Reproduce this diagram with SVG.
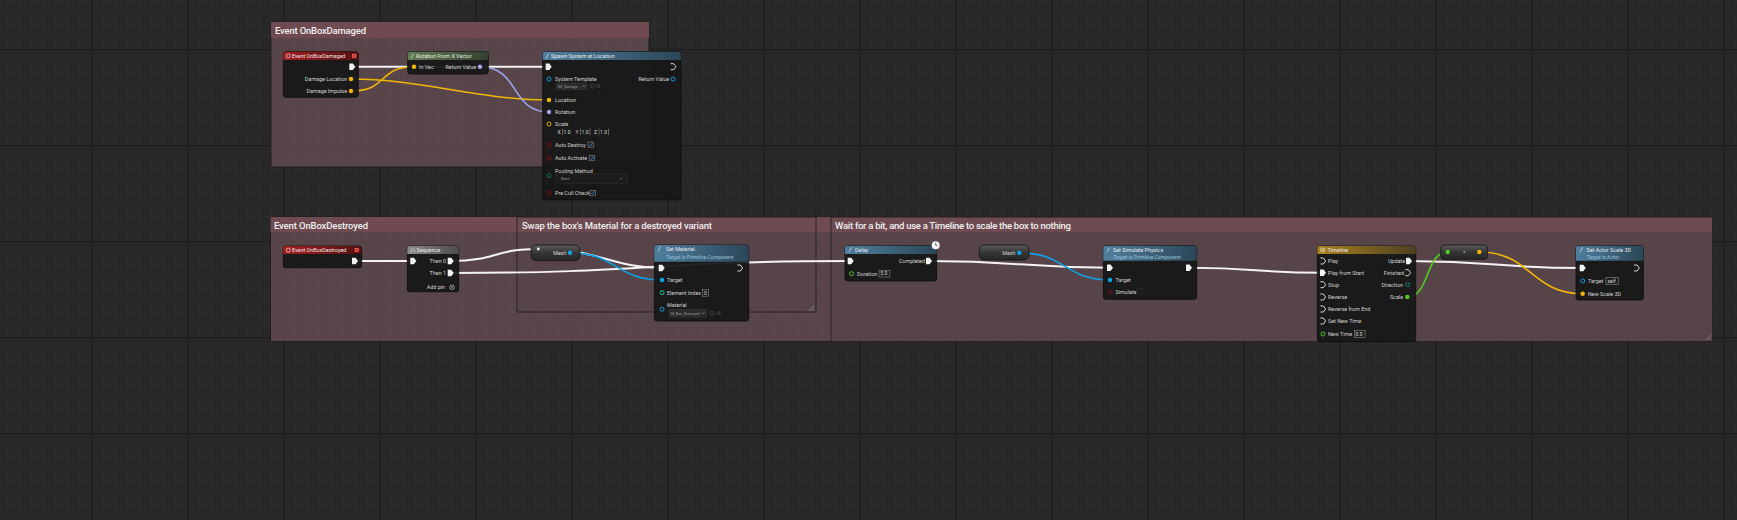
<svg xmlns="http://www.w3.org/2000/svg" xmlns:xlink="http://www.w3.org/1999/xlink" width="1737" height="520" viewBox="0 0 1737 520">
<defs>
  <pattern id="grid" width="96" height="96" patternUnits="userSpaceOnUse" x="91" y="49">
    <rect width="96" height="96" fill="#282828"/>
    <g stroke="#2d2d2d" stroke-width="1">
      <path d="M12 0V96M24 0V96M36 0V96M48 0V96M60 0V96M72 0V96M84 0V96"/>
      <path d="M0 12H96M0 24H96M0 36H96M0 48H96M0 60H96M0 72H96M0 84H96"/>
    </g>
    <path d="M0.5 0V96M0 0.5H96" stroke="#1c1c1c" stroke-width="1.5"/>
  </pattern>
  <linearGradient id="gEvent" x1="0" y1="0" x2="1" y2="0"><stop offset="0" stop-color="#a41e1e"/><stop offset="1" stop-color="#521212"/></linearGradient>
  <linearGradient id="gPure" x1="0" y1="0" x2="1" y2="0"><stop offset="0" stop-color="#627e52"/><stop offset="1" stop-color="#34402f"/></linearGradient>
  <linearGradient id="gFunc" x1="0" y1="0" x2="1" y2="0"><stop offset="0" stop-color="#4f7f9e"/><stop offset="1" stop-color="#2c4658"/></linearGradient>
  <linearGradient id="gSeq" x1="0" y1="0" x2="1" y2="0"><stop offset="0" stop-color="#8c8c8c"/><stop offset="1" stop-color="#4c4c4c"/></linearGradient>
  <linearGradient id="gTime" x1="0" y1="0" x2="1" y2="0"><stop offset="0" stop-color="#a8801e"/><stop offset="1" stop-color="#4e4020"/></linearGradient>
  <linearGradient id="gPill" x1="0" y1="0" x2="0" y2="1"><stop offset="0" stop-color="#5c5c5c"/><stop offset="0.5" stop-color="#353535"/><stop offset="1" stop-color="#262626"/></linearGradient>
  <path id="exf" d="M-3 -3.3H0.6L3 0L0.6 3.3H-3Z" fill="#f2f2f2"/>
  <path id="exo" d="M-2.6 -3H0.4L2.6 0L0.4 3H-2.6" fill="none" stroke="#e6e6e6" stroke-width="0.9"/>
  <path id="chk" d="M-1.6 0.2L-0.4 1.4L1.8 -1.6" fill="none" stroke="#2e8ce0" stroke-width="0.9"/>
  <style>
    text{font-family:"Roboto","Liberation Sans",sans-serif}
    .ct{font-size:9.5px;fill:#eeeeee;font-weight:500}
    .nt{font-size:5.4px;fill:#e8e8e8}
    .st{font-size:5.2px;fill:#9ec6de;font-style:italic}
    .pl{font-size:5.4px;fill:#d2d2d2}
    .r{text-anchor:end}
    .tiny{font-size:3.6px;fill:#9a9a9a}
    .val{font-size:5px;fill:#d8d8d8}
    .body{fill:#171717;fill-opacity:0.94;stroke:#0c0c0c;stroke-width:0.8}
    .cbody{fill:#5f4b4f;fill-opacity:0.86}
    .chead{fill:#6f4b51}
    .nest{fill:#5f4b4f;fill-opacity:0.06;stroke:#2a2224;stroke-width:1}
    .box{fill:#1e1e1e;stroke:#9a9a9a;stroke-width:0.5}
    .dd{fill:#2a2a2a;stroke:#3c3c3c;stroke-width:0.5}
    .grip{stroke:#9c9c9c;stroke-width:0.6}
    .wx{fill:none;stroke:#f4f4f4;stroke-width:2}
    .wv{fill:none;stroke:#f2b705;stroke-width:1.6}
    .wr{fill:none;stroke:#9fa7ee;stroke-width:1.6}
    .wo{fill:none;stroke:#0aa2e8;stroke-width:1.6}
    .wf{fill:none;stroke:#52cc1c;stroke-width:1.6}
  </style>
</defs>

<rect width="1737" height="520" fill="url(#grid)"/>

<!-- comments -->
<g id="comment-damaged">
  <rect x="271" y="22" width="378" height="145" class="cbody" stroke="#231c1d" stroke-width="1"/>
  <rect x="271" y="22" width="378" height="16" class="chead"/>
  <text x="275" y="34" class="ct" textLength="91">Event OnBoxDamaged</text>
  <path d="M647 162L642 167M647 164.5L644.5 167" class="grip"/>
</g>
<g id="comment-destroyed">
  <rect x="270.5" y="217" width="1442" height="124.5" class="cbody" stroke="#231c1d" stroke-width="1"/>
  <rect x="270.5" y="217" width="1442" height="15" class="chead"/>
  <text x="274" y="229" class="ct" textLength="94">Event OnBoxDestroyed</text>
</g>
<g id="comment-swap">
  <rect x="517" y="217" width="299" height="95" class="nest"/>
  <text x="522" y="229" class="ct" textLength="190">Swap the box's Material for a destroyed variant</text>
  <path d="M814 306L809 311M814 308.5L811.5 311" class="grip"/>
</g>
<g id="comment-wait">
  <rect x="831" y="217" width="881.5" height="124.5" class="nest"/>
  <text x="835" y="229" class="ct" textLength="236">Wait for a bit, and use a Timeline to scale the box to nothing</text>
  <path d="M1711 335L1706 340M1711 337.5L1708.5 340" class="grip"/>
</g>

<!-- connectors -->
<g id="connectors">
  <path class="wx" d="M352 66.7H549"/>
  <path class="wv" d="M351 79C420 79 480 100 549 100"/>
  <path class="wv" d="M351 91C388 91 378 66.7 414 66.7"/>
  <path class="wr" d="M480 66.7C520 66.7 510 112 549 112"/>
  <path class="wx" d="M355 261H413"/>
  <path class="wx" d="M451 261C496 261 494 249 538 249C600 249 612 268 662 268"/>
  <path class="wx" d="M451 273C651 273 651 261 851 261"/>
  <path class="wo" d="M570 252.7C616 252.7 616 280 662 280"/>
  <path class="wx" d="M929 261C1020 261 1020 267.7 1110 267.7"/>
  <path class="wo" d="M1019.3 252.7C1065 252.7 1065 280 1110 280"/>
  <path class="wx" d="M1189 267.7C1256 267.7 1256 272.7 1323 272.7"/>
  <path class="wx" d="M1409 261C1496 261 1496 268 1582.7 268"/>
  <path class="wf" d="M1407.3 297C1430 297 1425 252 1447.7 252"/>
  <path class="wv" d="M1479.3 252C1531 252 1531 293.7 1582.7 293.7"/>
</g>

<!-- nodes -->
<g id="node-event-damaged">
  <rect x="283.3" y="51.7" width="75" height="45.6" rx="2.5" class="body"/>
  <path d="M285.8 51.7H355.8A2.5 2.5 0 0 1 358.3 54.2V60H283.3V54.2A2.5 2.5 0 0 1 285.8 51.7Z" fill="url(#gEvent)"/>
  <circle cx="288.3" cy="55.9" r="2" fill="none" stroke="#eee" stroke-width="0.7"/>
  <text x="292" y="58" class="nt">Event OnBoxDamaged</text>
  <rect x="352.6" y="54.2" width="3.4" height="3.4" fill="#e02424" stroke="#ff9a9a" stroke-width="0.5"/>
  <use href="#exf" x="352.3" y="66.7"/>
  <text x="347" y="81" class="pl r">Damage Location</text>
  <circle cx="351" cy="79" r="2.2" fill="#f2b705"/>
  <text x="347" y="93" class="pl r">Damage Impulse</text>
  <circle cx="351" cy="91" r="2.2" fill="#f2b705"/>
</g>

<g id="node-rotation">
  <rect x="407.7" y="51.7" width="80.6" height="22.3" rx="2.5" class="body"/>
  <path d="M410.2 51.7H485.8A2.5 2.5 0 0 1 488.3 54.2V60H407.7V54.2A2.5 2.5 0 0 1 410.2 51.7Z" fill="url(#gPure)"/>
  <path d="M411 58.5L413.5 53.5" stroke="#ddd" stroke-width="0.7"/>
  <text x="416" y="58" class="nt">Rotation From X Vector</text>
  <circle cx="414" cy="66.7" r="2.2" fill="#f2b705"/>
  <text x="419" y="68.7" class="pl">In Vec</text>
  <text x="476" y="68.7" class="pl r">Return Value</text>
  <circle cx="480" cy="66.7" r="2.2" fill="#9fa7ee"/>
</g>

<g id="node-spawn">
  <rect x="542.7" y="51.7" width="138.3" height="148.3" rx="2.5" class="body"/>
  <path d="M545.2 51.7H678.5A2.5 2.5 0 0 1 681 54.2V60H542.7V54.2A2.5 2.5 0 0 1 545.2 51.7Z" fill="url(#gFunc)"/>
  <path d="M546 58.5L548.5 53.5" stroke="#ddd" stroke-width="0.7"/>
  <text x="551" y="58" class="nt">Spawn System at Location</text>
  <use href="#exf" x="548.7" y="66.7"/>
  <use href="#exo" x="673.3" y="66.7"/>
  <circle cx="549" cy="79" r="2" fill="none" stroke="#0aa2e8" stroke-width="0.9"/>
  <text x="555" y="81" class="pl">System Template</text>
  <rect x="556" y="83" width="31" height="6.5" rx="1" class="dd"/>
  <text x="558" y="87.6" class="tiny">NS_Damage</text>
  <path d="M582.5 85.5L584 87L585.5 85.5" fill="none" stroke="#aaa" stroke-width="0.5"/>
  <circle cx="592.5" cy="86.2" r="2" fill="none" stroke="#666" stroke-width="0.5"/>
  <circle cx="598.3" cy="85.8" r="1.5" fill="none" stroke="#666" stroke-width="0.5"/>
  <path d="M599.3 86.9L600.6 88.2" stroke="#666" stroke-width="0.5"/>
  <text x="669" y="81" class="pl r">Return Value</text>
  <circle cx="673" cy="79" r="2" fill="none" stroke="#0aa2e8" stroke-width="0.9"/>
  <circle cx="549" cy="100" r="2.2" fill="#f2b705"/>
  <text x="555" y="102" class="pl">Location</text>
  <circle cx="549" cy="112" r="2.2" fill="#9fa7ee"/>
  <text x="555" y="114" class="pl">Rotation</text>
  <circle cx="549" cy="124" r="2" fill="none" stroke="#f2b705" stroke-width="0.9"/>
  <text x="555" y="126" class="pl">Scale</text>
  <text x="557.5" y="133.8" class="val" fill="#888">X</text>
  <path d="M562.5 128.5V135" stroke="#aaa" stroke-width="0.5"/>
  <text x="563.5" y="133.8" class="val">1.0</text>
  <text x="575.5" y="133.8" class="val">Y</text>
  <path d="M580.5 128.5V135" stroke="#aaa" stroke-width="0.5"/>
  <text x="581.5" y="133.8" class="val">1.0</text>
  <path d="M590 128.5V135" stroke="#aaa" stroke-width="0.5"/>
  <text x="594" y="133.8" class="val">Z</text>
  <path d="M599 128.5V135" stroke="#aaa" stroke-width="0.5"/>
  <text x="600" y="133.8" class="val">1.0</text>
  <path d="M608.6 128.5V135" stroke="#aaa" stroke-width="0.5"/>
  <circle cx="549" cy="145" r="2" fill="none" stroke="#8a0c0c" stroke-width="0.9"/>
  <text x="555" y="147" class="pl">Auto Destroy</text>
  <rect x="588" y="142" width="5.5" height="5.5" class="box"/>
  <use href="#chk" x="590.7" y="144.7"/>
  <circle cx="549" cy="158.3" r="2" fill="none" stroke="#8a0c0c" stroke-width="0.9"/>
  <text x="555" y="160.3" class="pl">Auto Activate</text>
  <rect x="589.2" y="155.3" width="5.5" height="5.5" class="box"/>
  <use href="#chk" x="592" y="158"/>
  <circle cx="549" cy="175.7" r="2" fill="none" stroke="#0d6e6e" stroke-width="0.9"/>
  <text x="555" y="173" class="pl">Pooling Method</text>
  <rect x="556" y="174" width="71" height="9.3" rx="1" fill="#1b1b1b" stroke="#343434" stroke-width="0.5"/>
  <text x="561" y="180.4" class="tiny">None</text>
  <path d="M619.5 177.8L621 179.3L622.5 177.8" fill="none" stroke="#aaa" stroke-width="0.5"/>
  <circle cx="549" cy="193.3" r="2" fill="none" stroke="#8a0c0c" stroke-width="0.9"/>
  <text x="555" y="195.3" class="pl">Pre Cull Check</text>
  <rect x="590" y="190.3" width="5.5" height="5.5" class="box"/>
  <use href="#chk" x="592.7" y="193"/>
</g>

<g id="node-event-destroyed">
  <rect x="283.3" y="246" width="78.4" height="21.7" rx="2.5" class="body"/>
  <path d="M285.8 246H359.2A2.5 2.5 0 0 1 361.7 248.5V254H283.3V248.5A2.5 2.5 0 0 1 285.8 246Z" fill="url(#gEvent)"/>
  <circle cx="288.3" cy="250.1" r="2" fill="none" stroke="#eee" stroke-width="0.7"/>
  <text x="292" y="252.3" class="nt">Event OnBoxDestroyed</text>
  <rect x="355" y="248.3" width="3.4" height="3.4" fill="#e02424" stroke="#ff9a9a" stroke-width="0.5"/>
  <use href="#exf" x="355" y="261"/>
</g>

<g id="node-sequence">
  <rect x="407.3" y="246" width="51.4" height="45.7" rx="2.5" class="body"/>
  <path d="M409.8 246H456.2A2.5 2.5 0 0 1 458.7 248.5V254H407.3V248.5A2.5 2.5 0 0 1 409.8 246Z" fill="url(#gSeq)"/>
  <path d="M411.5 249V252.5M413.5 248.5L415 252.5" stroke="#ddd" stroke-width="0.7"/>
  <text x="416.5" y="252.3" class="nt">Sequence</text>
  <use href="#exf" x="413.3" y="261"/>
  <text x="446" y="263" class="pl r">Then 0</text>
  <use href="#exf" x="450.7" y="261"/>
  <text x="446" y="275" class="pl r">Then 1</text>
  <use href="#exf" x="450.7" y="273"/>
  <text x="445" y="289.3" class="pl r">Add pin</text>
  <circle cx="452" cy="287.3" r="2.3" fill="none" stroke="#ccc" stroke-width="0.6"/>
  <path d="M450.8 286.1L453.2 288.5M453.2 286.1L450.8 288.5" stroke="#ccc" stroke-width="0.6"/>
</g>

<g id="node-mesh-1">
  <rect x="531" y="245" width="49" height="15.7" rx="5" fill="url(#gPill)" stroke="#111" stroke-width="0.8"/>
  <circle cx="538.3" cy="249" r="1.4" fill="#f4f4f4"/>
  <text x="566.5" y="254.6" class="pl r">Mesh</text>
  <circle cx="570" cy="252.7" r="2.2" fill="#0aa2e8"/>
</g>

<g id="node-set-material">
  <rect x="654.3" y="245" width="94.4" height="76" rx="2.5" class="body"/>
  <path d="M656.8 245H746.2A2.5 2.5 0 0 1 748.7 247.5V261.7H654.3V247.5A2.5 2.5 0 0 1 656.8 245Z" fill="url(#gFunc)"/>
  <path d="M658 251.5L660.5 246.5" stroke="#ddd" stroke-width="0.7"/>
  <text x="666" y="251.3" class="nt">Set Material</text>
  <text x="666" y="258.6" class="st">Target is Primitive Component</text>
  <use href="#exf" x="661.7" y="268"/>
  <use href="#exo" x="740" y="268"/>
  <circle cx="662" cy="280" r="2.2" fill="#0aa2e8"/>
  <text x="667" y="282" class="pl">Target</text>
  <circle cx="662" cy="292.7" r="2" fill="none" stroke="#1fcf9a" stroke-width="0.9"/>
  <text x="667" y="294.7" class="pl">Element Index</text>
  <rect x="702.7" y="289.5" width="5.8" height="6.7" class="box"/>
  <text x="704.1" y="294.5" class="val">0</text>
  <circle cx="662" cy="309.3" r="2" fill="none" stroke="#0aa2e8" stroke-width="0.9"/>
  <text x="667" y="307.3" class="pl">Material</text>
  <rect x="669" y="309.5" width="37.7" height="7.8" rx="1" class="dd"/>
  <text x="671" y="314.8" class="tiny">M_Box_Destroyed</text>
  <path d="M701.5 312.5L703 314L704.5 312.5" fill="none" stroke="#aaa" stroke-width="0.5"/>
  <circle cx="711.7" cy="313.3" r="2" fill="none" stroke="#666" stroke-width="0.5"/>
  <circle cx="718.5" cy="313" r="1.5" fill="none" stroke="#666" stroke-width="0.5"/>
  <path d="M719.5 314L720.8 315.3" stroke="#666" stroke-width="0.5"/>
</g>

<g id="node-delay">
  <rect x="845" y="245.7" width="91.7" height="35.3" rx="2.5" class="body"/>
  <path d="M847.5 245.7H934.2A2.5 2.5 0 0 1 936.7 248.2V254H845V248.2A2.5 2.5 0 0 1 847.5 245.7Z" fill="url(#gFunc)"/>
  <path d="M849 252.3L851.5 247.3" stroke="#ddd" stroke-width="0.7"/>
  <text x="855" y="252.1" class="nt">Delay</text>
  <circle cx="935.7" cy="245.3" r="4" fill="#f4f4f4"/>
  <path d="M935.7 242.6V245.3H937.6" fill="none" stroke="#222" stroke-width="0.6"/>
  <use href="#exf" x="850.7" y="261"/>
  <text x="925" y="263" class="pl r">Completed</text>
  <use href="#exf" x="929" y="261"/>
  <circle cx="851.5" cy="273.7" r="2" fill="none" stroke="#52cc1c" stroke-width="0.9"/>
  <text x="857" y="275.7" class="pl">Duration</text>
  <rect x="879" y="270.3" width="11" height="6.7" class="box"/>
  <text x="880.3" y="275.3" class="val">5.0</text>
</g>

<g id="node-mesh-2">
  <rect x="979.3" y="245" width="49.7" height="15" rx="5" fill="url(#gPill)" stroke="#111" stroke-width="0.8"/>
  <text x="1015.5" y="254.6" class="pl r">Mesh</text>
  <circle cx="1019.3" cy="252.7" r="2.2" fill="#0aa2e8"/>
</g>

<g id="node-simulate">
  <rect x="1103.3" y="245.7" width="93.4" height="53.6" rx="2.5" class="body"/>
  <path d="M1105.8 245.7H1194.2A2.5 2.5 0 0 1 1196.7 248.2V260.7H1103.3V248.2A2.5 2.5 0 0 1 1105.8 245.7Z" fill="url(#gFunc)"/>
  <path d="M1107 252.3L1109.5 247.3" stroke="#ddd" stroke-width="0.7"/>
  <text x="1113" y="252" class="nt">Set Simulate Physics</text>
  <text x="1113" y="258.6" class="st">Target is Primitive Component</text>
  <use href="#exf" x="1110" y="267.7"/>
  <use href="#exf" x="1189" y="267.7"/>
  <circle cx="1110" cy="280" r="2.2" fill="#0aa2e8"/>
  <text x="1115.5" y="282" class="pl">Target</text>
  <circle cx="1110" cy="291.7" r="2" fill="none" stroke="#8a0c0c" stroke-width="0.9"/>
  <text x="1115.5" y="293.7" class="pl">Simulate</text>
  <rect x="1136.7" y="288.3" width="6.5" height="6.5" fill="#1e1e1e" stroke="#2c2c2c" stroke-width="0.5"/>
</g>

<g id="node-timeline">
  <rect x="1317.3" y="246" width="98.4" height="95.7" rx="2.5" class="body"/>
  <path d="M1319.8 246H1413.2A2.5 2.5 0 0 1 1415.7 248.5V254H1317.3V248.5A2.5 2.5 0 0 1 1319.8 246Z" fill="url(#gTime)"/>
  <circle cx="1322.7" cy="250" r="2.1" fill="none" stroke="#eee" stroke-width="0.6"/>
  <path d="M1321.5 248.8L1323.9 251.2M1323.9 248.8L1321.5 251.2" stroke="#eee" stroke-width="0.5"/>
  <text x="1327.5" y="252.3" class="nt">Timeline</text>
  <use href="#exo" x="1323" y="261"/>
  <text x="1328" y="263" class="pl">Play</text>
  <use href="#exf" x="1323" y="272.7"/>
  <text x="1328" y="274.7" class="pl">Play from Start</text>
  <use href="#exo" x="1323" y="284.7"/>
  <text x="1328" y="286.7" class="pl">Stop</text>
  <use href="#exo" x="1323" y="297"/>
  <text x="1328" y="299" class="pl">Reverse</text>
  <use href="#exo" x="1323" y="309"/>
  <text x="1328" y="311" class="pl">Reverse from End</text>
  <use href="#exo" x="1323" y="321"/>
  <text x="1328" y="323" class="pl">Set New Time</text>
  <circle cx="1323" cy="334" r="2" fill="none" stroke="#52cc1c" stroke-width="0.9"/>
  <text x="1328" y="336" class="pl">New Time</text>
  <rect x="1354.3" y="330.5" width="10.8" height="6.8" class="box"/>
  <text x="1355.6" y="335.6" class="val">0.0</text>
  <text x="1405" y="263" class="pl r">Update</text>
  <use href="#exf" x="1409" y="261"/>
  <text x="1404" y="274.7" class="pl r">Finished</text>
  <use href="#exo" x="1408" y="272.7"/>
  <text x="1403" y="286.7" class="pl r">Direction</text>
  <circle cx="1407.7" cy="284.7" r="2" fill="none" stroke="#0d8a8a" stroke-width="0.9"/>
  <text x="1403" y="299" class="pl r">Scale</text>
  <circle cx="1407.3" cy="297" r="2.2" fill="#52cc1c"/>
</g>

<g id="node-make-vector">
  <rect x="1440.7" y="245" width="47" height="14.3" rx="4" fill="url(#gPill)" stroke="#111" stroke-width="0.8"/>
  <circle cx="1447.7" cy="252" r="2.2" fill="#52cc1c"/>
  <circle cx="1464.3" cy="251.7" r="1" fill="#9a9a9a"/>
  <circle cx="1479.3" cy="252" r="2.2" fill="#f2b705"/>
</g>

<g id="node-set-scale">
  <rect x="1576" y="245.7" width="67.3" height="54.3" rx="2.5" class="body"/>
  <path d="M1578.5 245.7H1640.8A2.5 2.5 0 0 1 1643.3 248.2V260.7H1576V248.2A2.5 2.5 0 0 1 1578.5 245.7Z" fill="url(#gFunc)"/>
  <path d="M1580 252.3L1582.5 247.3" stroke="#ddd" stroke-width="0.7"/>
  <text x="1586.5" y="252" class="nt">Set Actor Scale 3D</text>
  <text x="1586.5" y="258.6" class="st">Target is Actor</text>
  <use href="#exf" x="1582.7" y="268"/>
  <use href="#exo" x="1636.7" y="268"/>
  <circle cx="1582.7" cy="281" r="2" fill="none" stroke="#0aa2e8" stroke-width="0.9"/>
  <text x="1588" y="283" class="pl">Target</text>
  <rect x="1606" y="277.5" width="12.3" height="7" class="box"/>
  <text x="1607.5" y="282.8" class="val">self</text>
  <circle cx="1582.7" cy="293.7" r="2.2" fill="#f2b705"/>
  <text x="1588" y="295.7" class="pl">New Scale 3D</text>
</g>
</svg>
